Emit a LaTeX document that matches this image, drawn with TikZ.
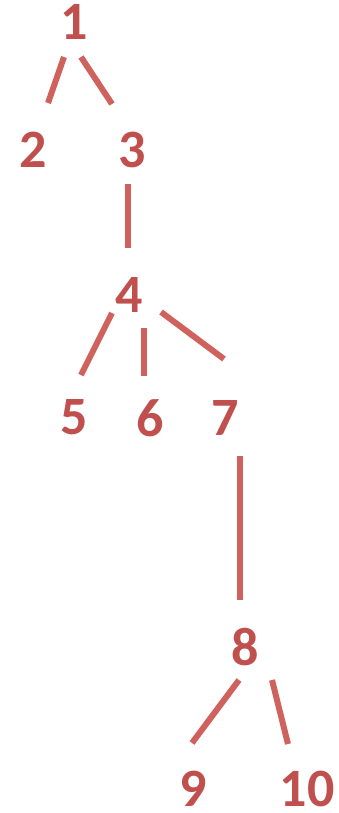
\documentclass[tikz,border=0pt]{standalone}
\usepackage{fontspec}
\setmainfont{Carlito}
\usetikzlibrary{calc}
\definecolor{numred}{HTML}{C0504D}
\definecolor{edgered}{HTML}{D0625E}
\begin{document}
\begin{tikzpicture}[x=1pt,y=-1pt,
  num/.style={text=numred,font=\fontsize{54}{54}\selectfont\bfseries,inner sep=0pt,anchor=center},
  edge/.style={draw=edgered,line width=6pt,line cap=butt}]
\useasboundingbox (0,0) rectangle (339,813);
\node[num] (n1) at (74,22) {1};
\node[num] (n2) at (33,150) {2};
\node[num] (n3) at (132,150) {3};
\node[num] (n4) at (129,295) {4};
\node[num] (n5) at (74,417) {5};
\node[num] (n6) at (150,418) {6};
\node[num] (n7) at (225,418) {7};
\node[num] (n8) at (245,647) {8};
\node[num] (n9) at (193,789) {9};
\node[num] (n10) at (307,789) {10};
\draw[edge] ($(n1)+(-10,35)$) -- ($(n2)+(15,-47)$);
\draw[edge] ($(n1)+(7,35)$) -- ($(n3)+(-20,-46)$);
\draw[edge] ($(n3)+(-4,34)$) -- ($(n4)+(-1,-47)$);
\draw[edge] ($(n4)+(-17,18)$) -- ($(n5)+(7,-42)$);
\draw[edge] ($(n4)+(15,33)$) -- ($(n6)+(-6,-42)$);
\draw[edge] ($(n4)+(32,17)$) -- ($(n7)+(-1,-59)$);
\draw[edge] ($(n7)+(15,38)$) -- ($(n8)+(-5,-47)$);
\draw[edge] ($(n8)+(-6,33)$) -- ($(n9)+(-1,-46)$);
\draw[edge] ($(n8)+(27,33)$) -- ($(n10)+(-19,-45)$);
\end{tikzpicture}
\end{document}
